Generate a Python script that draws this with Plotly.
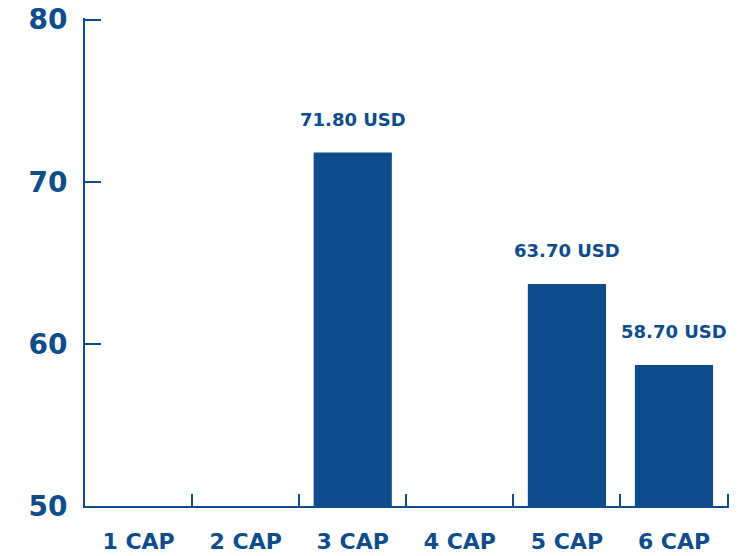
import plotly.graph_objects as go

categories = ["1 CAP", "2 CAP", "3 CAP", "4 CAP", "5 CAP", "6 CAP"]
values = [None, None, 71.8, None, 63.7, 58.7]
labels = ["", "", "71.80 USD", "", "63.70 USD", "58.70 USD"]
y_ticks = [50, 60, 70, 80]

BLUE = "#0e4c8b"
FONT = "DejaVu Sans"

fig = go.Figure()
fig.add_trace(go.Bar(x=categories, y=values, marker=dict(color=BLUE, line=dict(width=0)),
                     width=0.73, hoverinfo="skip"))

for c, v, t in zip(categories, values, labels):
    if v is not None:
        fig.add_annotation(x=c, y=v, text=t, showarrow=False, yanchor="bottom", yshift=21,
                           font=dict(family=FONT, size=18, color=BLUE, weight="bold"))

fig.update_layout(
    width=739, height=556,
    margin=dict(l=85, r=10, t=18, b=50, autoexpand=False),
    plot_bgcolor="white", paper_bgcolor="white",
    showlegend=False,
    xaxis=dict(type="category", categoryorder="array", categoryarray=categories,
               showgrid=False, showline=True, linecolor=BLUE, linewidth=2,
               ticks="inside", tickson="boundaries", ticklen=12, tickwidth=2, tickcolor=BLUE,
               tickfont=dict(family=FONT, size=22, color=BLUE, weight="bold"),
               ticklabelstandoff=15, automargin=False),
    yaxis=dict(range=[50, 80.1], tickvals=y_ticks, showgrid=False, zeroline=False,
               showline=True, linecolor=BLUE, linewidth=2,
               ticks="inside", ticklen=16, tickwidth=2, tickcolor=BLUE,
               tickfont=dict(family=FONT, size=28, color=BLUE, weight="bold"),
               ticklabelstandoff=10, automargin=False),
)
fig.write_html("out.html", config={"displayModeBar": False},
               post_script="document.body.style.margin='0';")
